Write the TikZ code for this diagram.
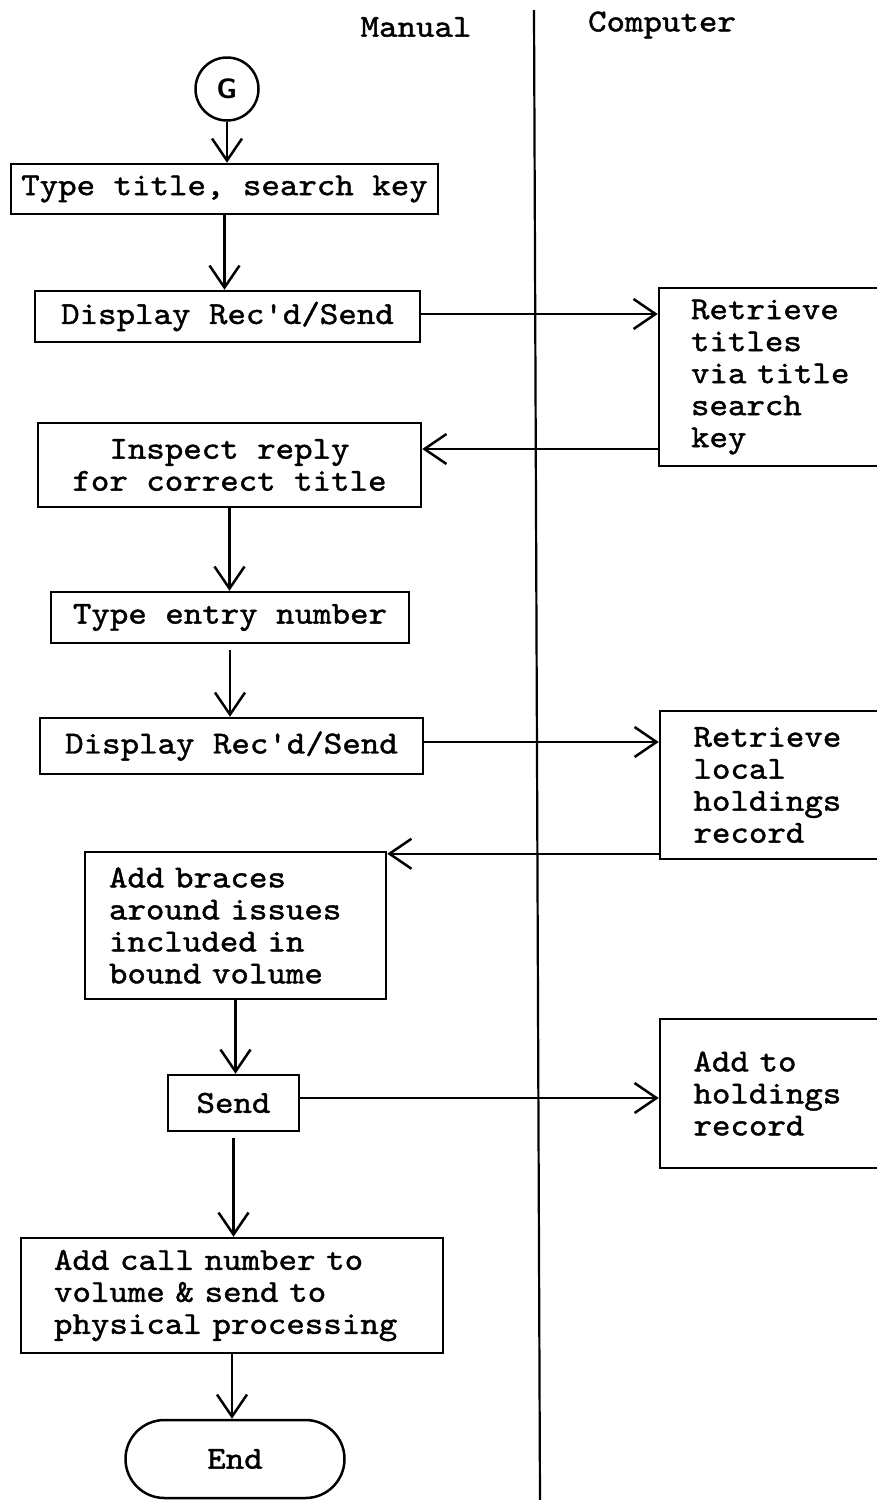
\documentclass[tikz,border=0pt]{standalone}
\usepackage{fontspec}
\usetikzlibrary{arrows.meta}
% typewriter face for all labels
\newfontfamily\twfont{lmmono10-regular}[Extension=.otf,FakeBold=1.3,FakeStretch=1.1]
\tikzset{
  lw/.style={line width=2.5pt},
  lane/.style={line width=2.2pt},
  flow/.style={lw,-{Straight Barb[length=22pt,width=30pt,line width=2.5pt]}},
  txt/.style={inner sep=0pt,font=\fontsize{32}{32}\twfont},
  box/.style={txt,draw,lw},
  leftbox/.style={box,align=left},
}
\begin{document}
\begin{tikzpicture}[x=1pt,y=-1pt]
\useasboundingbox (0,0) rectangle (877,1500);

% swimlane divider and headings
\draw[lane] (534,10) -- (540,1500);
\node[txt] (manual) at (416,27) {Manual};
\node[txt] (computer) at (662,25) {Computer};

% manual column
\node[draw,lw,circle,minimum size=63pt,inner sep=0pt,
      font=\sffamily\bfseries\fontsize{28}{28}\selectfont] (g) at (227,89) {G};
\node[box,minimum width=427pt,minimum height=50pt] (b1) at (224.5,189) {Type title, search key};
\node[box,minimum width=385pt,minimum height=51pt] (b2) at (227.5,316.5) {Display Rec'd/Send};
\node[box,align=center,minimum width=383pt,minimum height=84pt] (insp) at (229.5,465) {Inspect reply\\for correct title};
\node[box,minimum width=358pt,minimum height=51pt] (entry) at (230,617.5) {Type entry number};
\node[box,minimum width=383pt,minimum height=56pt] (d2) at (231.5,746) {Display Rec'd/Send};
\node[leftbox,text width=253pt,minimum width=301pt,minimum height=147pt] (brace) at (235.5,925.5)
  {Add braces\\around issues\\included in\\bound volume};
\node[box,minimum width=131pt,minimum height=56pt] (send) at (233.5,1103) {Send};
\node[leftbox,text width=356pt,minimum width=422pt,minimum height=115pt] (call) at (232,1295.5)
  {Add call number to\\volume \& send to\\physical processing};
\node[box,rounded corners=39pt,minimum width=219pt,minimum height=78pt] (end) at (235,1459) {End};

% computer column (boxes run off the right edge)
\node[leftbox,text width=227pt,minimum width=291pt,minimum height=178pt] (r1) at (804.5,377)
  {Retrieve\\titles\\via title\\search\\key};
\node[leftbox,text width=223pt,minimum width=290pt,minimum height=148pt] (r2) at (805,785)
  {Retrieve\\local\\holdings\\record};
\node[leftbox,text width=223pt,minimum width=290pt,minimum height=149pt] (r3) at (805,1093.5)
  {Add to\\holdings\\record};

% flow down the manual column
\draw[flow] (g.south) -- (g.south |- b1.north);
\draw[flow] (b1.south) -- (b1.south |- b2.north);
\draw[flow] (insp.south) -- (insp.south |- entry.north);
\draw[flow] ([yshift=-6pt]entry.south) -- (entry.south |- d2.north);
\draw[flow] (brace.south) -- (brace.south |- send.north);
\draw[flow] ([yshift=-6pt]send.south) -- (send.south |- call.north);
\draw[flow] (call.south) -- (call.south |- end.north);

% exchanges with the computer
\draw[flow] ([yshift=2.5pt]b2.east) -- ([yshift=2.5pt]b2.east -| r1.west);
\draw[flow] ([yshift=16pt]insp.east -| r1.west) -- ([yshift=16pt]insp.east);
\draw[flow] ([yshift=4pt]d2.east) -- ([yshift=4pt]d2.east -| r2.west);
\draw[flow] ([yshift=-3pt]brace.north east -| r2.west) -- ([yshift=-3pt]brace.north east);
\draw[flow] ([yshift=5pt]send.east) -- ([yshift=5pt]send.east -| r3.west);
\end{tikzpicture}
\end{document}
